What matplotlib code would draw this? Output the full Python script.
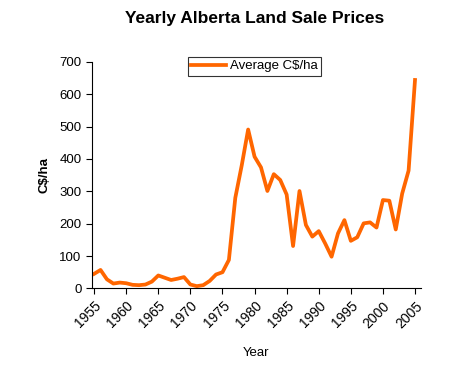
import matplotlib
matplotlib.use("Agg")
import matplotlib.pyplot as plt

plt.rcParams['font.family'] = ['Liberation Sans', 'DejaVu Sans']

# data
years = list(range(1955, 2006))
prices = [45, 57, 28, 15, 18, 16, 11, 10, 12, 21,
          40, 33, 26, 30, 35, 12, 7, 10, 23, 43,
          50, 88, 280, 380, 491, 407, 374, 301, 353, 335,
          290, 131, 301, 196, 160, 177, 139, 98, 170, 211,
          147, 158, 201, 204, 188, 273, 271, 182, 293, 364,
          644]
tick_years = list(range(1955, 2010, 5))
yticks = list(range(0, 800, 100))

fig = plt.figure(figsize=(4.76, 3.66), dpi=100)
ax = fig.add_axes([0.193, 0.212, 0.691, 0.619])

line, = ax.plot(years, prices, color='#FF6600', lw=2.7, solid_joinstyle='round',
                label='Average C$/ha')

ax.set_xlim(1954.65, 2005.9)
ax.set_ylim(0, 700)
ax.set_xticks(tick_years)
ax.set_xticklabels([str(y) for y in tick_years], rotation=45, ha='right',
                   rotation_mode='anchor', fontsize=10)
ax.set_yticks(yticks)
ax.tick_params(axis='y', labelsize=9.5, length=4, width=0.8)
ax.tick_params(axis='x', length=4, width=0.8)
ax.spines['top'].set_visible(False)
ax.spines['right'].set_visible(False)

ax.set_xlabel('Year', fontsize=9.5, labelpad=12)
ax.set_ylabel('C$/ha', fontsize=9.5, fontweight='bold', labelpad=6)
fig.text(0.535, 0.95, 'Yearly Alberta Land Sale Prices', ha='center', va='center',
         fontsize=12.5, fontweight='bold')

leg = fig.legend(handles=[line], loc='upper left', bbox_to_anchor=(0.395, 0.845),
                 frameon=True, fancybox=False, fontsize=9.5, handlelength=2.6,
                 borderpad=0.25, handletextpad=0.3, borderaxespad=0)
leg.get_frame().set_edgecolor('black')
leg.get_frame().set_linewidth(0.8)

fig.savefig('out.png', dpi=100)
